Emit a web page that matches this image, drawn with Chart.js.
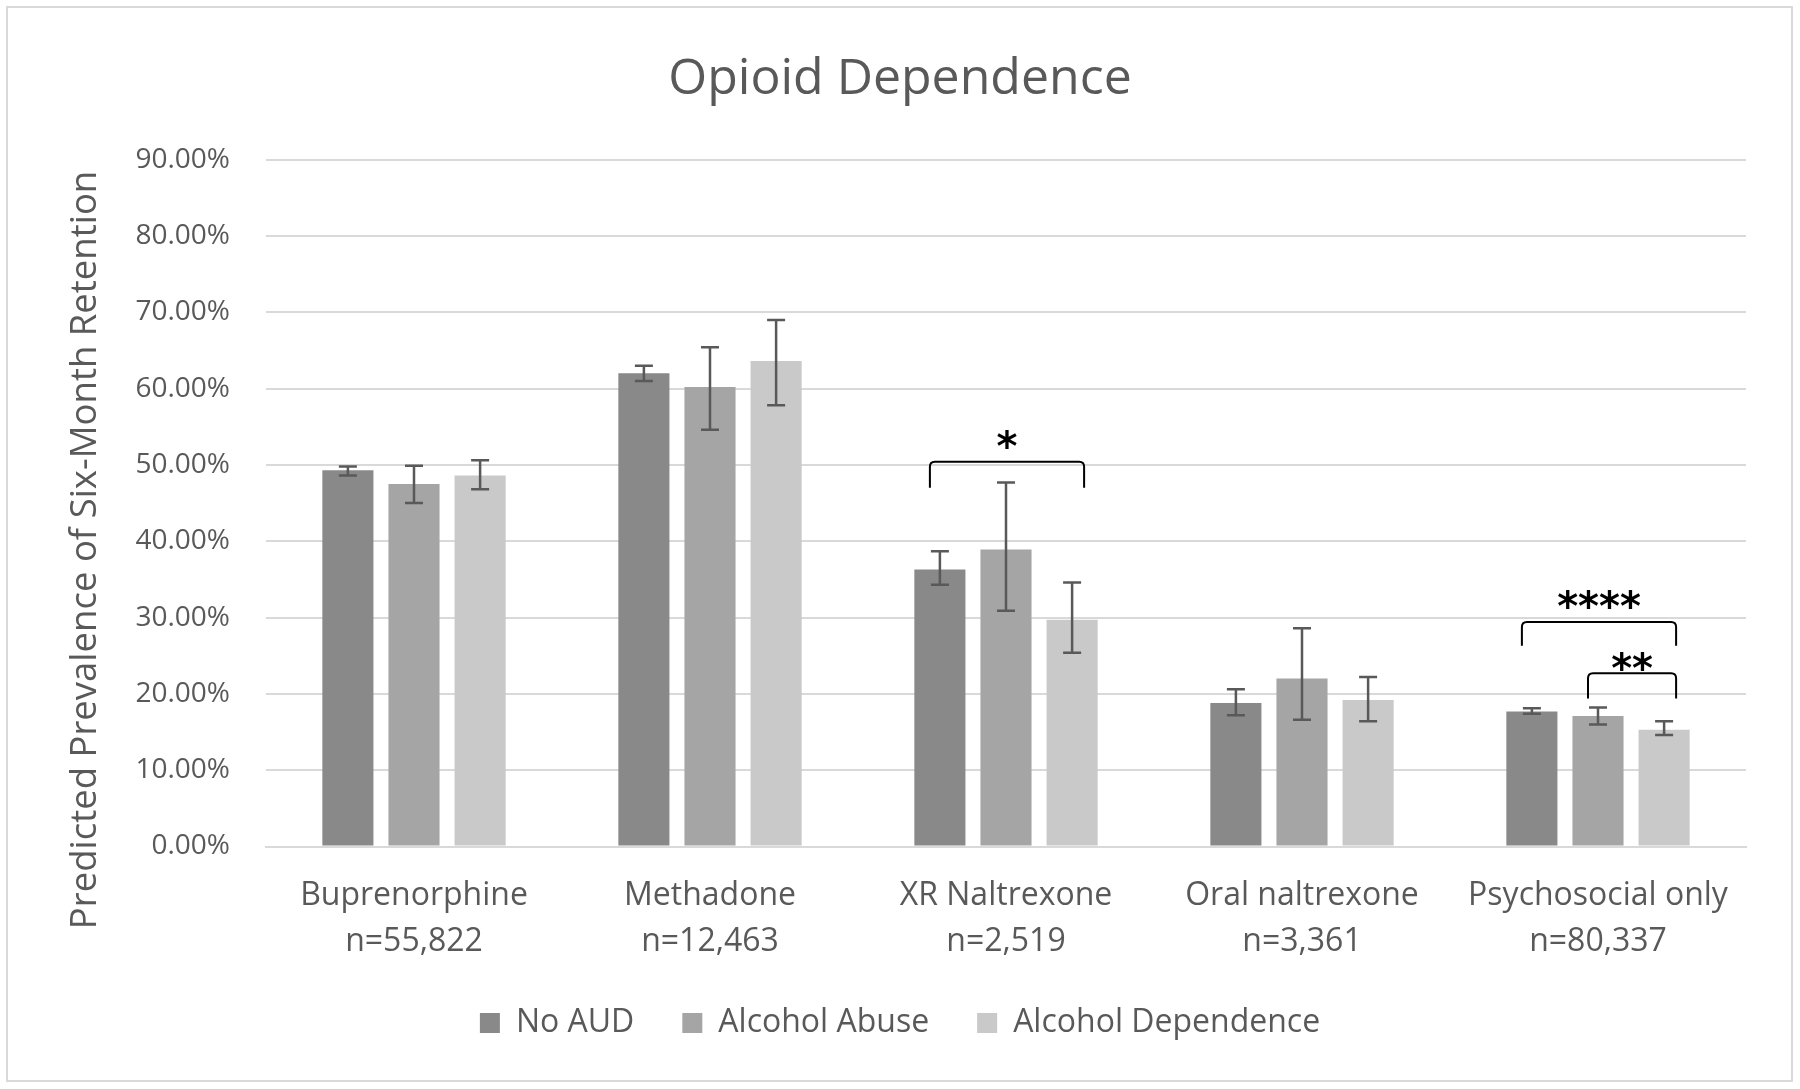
<!DOCTYPE html>
<html>
<head>
<meta charset="utf-8">
<script src="https://cdn.jsdelivr.net/npm/chart.js@4"></script>
<style>
  html, body { margin: 0; padding: 0; background: #ffffff; }
  #c { display: block; }
</style>
</head>
<body>
<canvas id="c" width="1800" height="1089"></canvas>
<script>
// ---------- data ----------
const drugNames   = ['Buprenorphine', 'Methadone', 'XR Naltrexone', 'Oral naltrexone', 'Psychosocial only'];
const sampleSizes = ['n=55,822', 'n=12,463', 'n=2,519', 'n=3,361', 'n=80,337'];
const seriesNames = ['No AUD', 'Alcohol Abuse', 'Alcohol Dependence'];

const noAUD     = [49.3, 62.0, 36.3, 18.8, 17.7];
const noAUDLow  = [48.6, 61.0, 34.3, 17.2, 17.4];
const noAUDHigh = [49.8, 63.0, 38.7, 20.6, 18.1];

const abuse     = [47.5, 60.2, 38.9, 22.0, 17.1];
const abuseLow  = [45.0, 54.6, 30.9, 16.6, 16.0];
const abuseHigh = [49.9, 65.4, 47.7, 28.6, 18.2];

const dependence     = [48.6, 63.6, 29.7, 19.2, 15.3];
const dependenceLow  = [46.8, 57.8, 25.4, 16.4, 14.6];
const dependenceHigh = [50.6, 69.0, 34.6, 22.2, 16.4];

const yTicks = [0, 10, 20, 30, 40, 50, 60, 70, 80, 90];

// significance brackets: category index, from series, to series, bracket top, leg end, label, label position
const bracketCategory = [2, 4, 4];
const bracketFrom     = [0, 0, 1];
const bracketTo       = [2, 2, 2];
const bracketTop      = [50.4, 29.4, 22.7];
const bracketLegEnd   = [47.0, 26.3, 19.4];
const bracketLabel    = ['*', '****', '**'];
const bracketLabelAt  = [53.0, 32.1, 23.9];

// ---------- styles ----------
const FONT = "'Open Sans', 'Noto Sans', sans-serif";
const TEXT = '#595959';
const GRID = '#d9d9d9';
const colors = ['#898989', '#a5a5a5', '#c9c9c9'];

const labels = drugNames.map((n, i) => [n, sampleSizes[i]]);
const values = [noAUD, abuse, dependence];
const lows   = [noAUDLow, abuseLow, dependenceLow];
const highs  = [noAUDHigh, abuseHigh, dependenceHigh];

const frame = {
  id: 'frame',
  beforeDraw(chart) {
    const ctx = chart.ctx;
    ctx.save();
    ctx.fillStyle = '#ffffff';
    ctx.fillRect(0, 0, chart.width, chart.height);
    ctx.strokeStyle = GRID;
    ctx.lineWidth = 2;
    ctx.strokeRect(7, 7, 1785, 1074);
    ctx.restore();
  },
  afterDraw(chart) {
    const ctx = chart.ctx;
    ctx.save();
    ctx.translate(86, 550);
    ctx.rotate(-Math.PI / 2);
    ctx.fillStyle = TEXT;
    ctx.font = "36.5px " + FONT;
    ctx.textAlign = 'center';
    ctx.textBaseline = 'middle';
    ctx.fillText('Predicted Prevalence of Six-Month Retention', 0, 0);
    ctx.restore();
  }
};

const errorBars = {
  id: 'errorBars',
  afterDatasetsDraw(chart) {
    const ctx = chart.ctx;
    const y = chart.scales.y;
    ctx.save();
    ctx.strokeStyle = '#595959';
    ctx.lineWidth = 2.5;
    chart.data.datasets.forEach((ds, di) => {
      const meta = chart.getDatasetMeta(di);
      meta.data.forEach((el, j) => {
        const x = el.x;
        const yl = y.getPixelForValue(lows[di][j]);
        const yh = y.getPixelForValue(highs[di][j]);
        const cap = 9;
        ctx.beginPath();
        ctx.moveTo(x, yl); ctx.lineTo(x, yh);
        ctx.moveTo(x - cap, yl); ctx.lineTo(x + cap, yl);
        ctx.moveTo(x - cap, yh); ctx.lineTo(x + cap, yh);
        ctx.stroke();
      });
    });
    ctx.restore();
  }
};

const brackets = {
  id: 'brackets',
  afterDatasetsDraw(chart) {
    const ctx = chart.ctx;
    const y = chart.scales.y;
    ctx.save();
    ctx.strokeStyle = '#000000';
    ctx.fillStyle = '#000000';
    ctx.lineWidth = 2;
    bracketCategory.forEach((c, k) => {
      const x1 = chart.getDatasetMeta(bracketFrom[k]).data[c].x - 10;
      const x2 = chart.getDatasetMeta(bracketTo[k]).data[c].x + 12;
      const yt = y.getPixelForValue(bracketTop[k]);
      const yb = y.getPixelForValue(bracketLegEnd[k]);
      const r = 5;
      ctx.beginPath();
      ctx.moveTo(x1, yb);
      ctx.lineTo(x1, yt + r);
      ctx.quadraticCurveTo(x1, yt, x1 + r, yt);
      ctx.lineTo(x2 - r, yt);
      ctx.quadraticCurveTo(x2, yt, x2, yt + r);
      ctx.lineTo(x2, yb);
      ctx.stroke();
      ctx.font = "bold 40px 'DejaVu Sans', sans-serif";
      ctx.textAlign = 'center';
      ctx.textBaseline = 'middle';
      const ly = y.getPixelForValue(bracketLabelAt[k]);
      ctx.fillText(bracketLabel[k], (x1 + x2) / 2, ly + 8);
    });
    ctx.restore();
  }
};

new Chart(document.getElementById('c'), {
  type: 'bar',
  data: {
    labels: labels,
    datasets: seriesNames.map((name, i) => ({
      label: name,
      data: values[i],
      backgroundColor: colors[i],
      borderWidth: 0,
      categoryPercentage: 0.67,
      barPercentage: 0.773
    }))
  },
  options: {
    responsive: false,
    devicePixelRatio: 1,
    animation: false,
    layout: { padding: { left: 27, right: 27, top: 8, bottom: 40 } },
    plugins: {
      title: {
        display: true,
        text: 'Opioid Dependence',
        color: TEXT,
        font: { family: FONT, size: 50, weight: 'normal', lineHeight: 1.2 },
        padding: { top: 42, bottom: 49.6 }
      },
      legend: {
        position: 'bottom',
        labels: {
          color: TEXT,
          font: { family: FONT, size: 32 },
          boxWidth: 20,
          boxHeight: 20,
          padding: 48
        }
      },
      tooltip: { enabled: false }
    },
    scales: {
      x: {
        grid: { display: false, drawTicks: false },
        border: { display: true, color: GRID, width: 2 },
        ticks: {
          color: TEXT,
          font: { family: FONT, size: 32, lineHeight: 1.43 },
          padding: 27,
          maxRotation: 0,
          autoSkip: false
        },
        afterFit(scale) { scale.height = 112.5; }
      },
      y: {
        min: 0,
        max: 90,
        afterBuildTicks(scale) { scale.ticks = yTicks.map(v => ({ value: v })); },
        grid: { color: GRID, lineWidth: 2, drawTicks: false },
        border: { display: false },
        ticks: {
          color: TEXT,
          font: { family: FONT, size: 28 },
          padding: 36,
          callback: v => v.toFixed(2) + '%'
        },
        afterFit(scale) { scale.width = 239; }
      },
      y2: {
        position: 'right',
        display: true,
        grid: { display: false, drawTicks: false },
        border: { display: false },
        ticks: { display: false },
        afterFit(scale) { scale.width = 27; }
      }
    }
  },
  plugins: [frame, errorBars, brackets]
});
</script>
</body>
</html>
